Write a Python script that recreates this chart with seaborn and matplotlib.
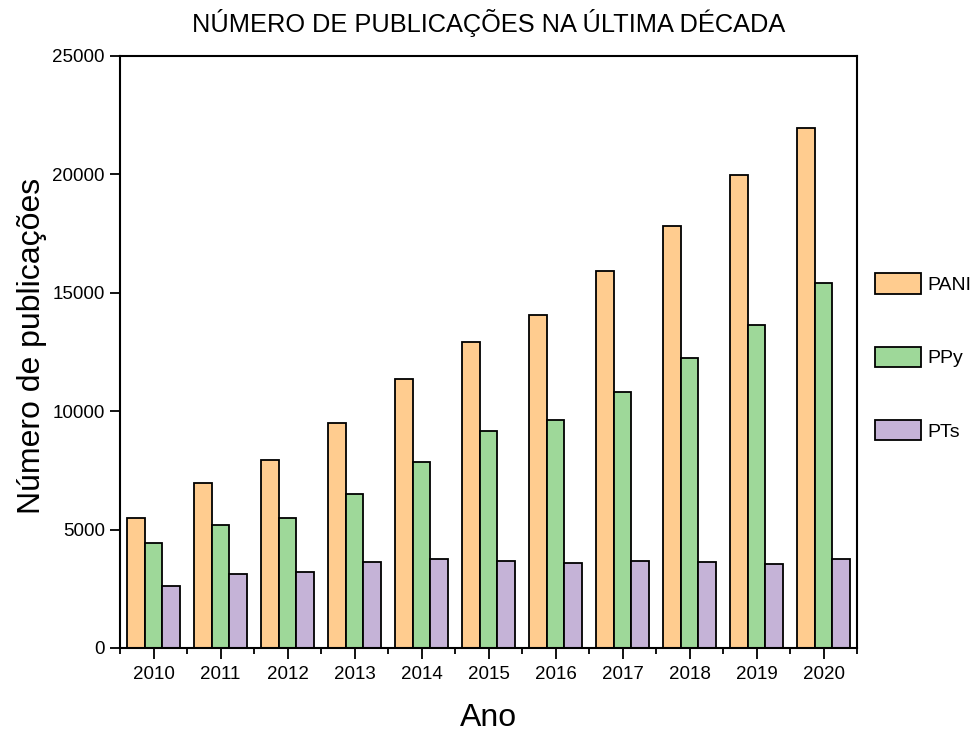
import numpy as np
import pandas as pd
import matplotlib
matplotlib.use("Agg")
import matplotlib.pyplot as plt
from matplotlib.ticker import FixedLocator
import seaborn as sns

# values
anos = ["2010", "2011", "2012", "2013", "2014", "2015", "2016", "2017", "2018", "2019", "2020"]
pani = [5500, 6950, 7950, 9500, 11370, 12920, 14080, 15930, 17820, 19970, 21980]
ppy = [4420, 5190, 5510, 6500, 7840, 9150, 9630, 10810, 12240, 13620, 15400]
pts = [2620, 3110, 3190, 3630, 3770, 3660, 3570, 3660, 3650, 3540, 3750]

series = ["PANI", "PPy", "PTs"]
cores = {"PANI": "#FFCC8F", "PPy": "#9ED899", "PTs": "#C5B3D7"}

df = pd.DataFrame({
    "Ano": anos * 3,
    "valor": pani + ppy + pts,
    "serie": ["PANI"] * len(anos) + ["PPy"] * len(anos) + ["PTs"] * len(anos),
})

sns.set_theme(style="ticks")
plt.rcParams["font.family"] = ["Liberation Sans", "DejaVu Sans"]
plt.rcParams["axes.linewidth"] = 1.5
plt.rcParams["text.color"] = "black"
plt.rcParams["axes.labelcolor"] = "black"
plt.rcParams["xtick.color"] = "black"
plt.rcParams["ytick.color"] = "black"

fig = plt.figure(figsize=(9.77, 7.31), dpi=100)
fig.subplots_adjust(left=120/977, right=857/977, top=1-56/731, bottom=1-648/731)
ax = fig.add_subplot(111)

sns.barplot(data=df, x="Ano", y="valor", hue="serie", hue_order=series,
            palette=cores, edgecolor="black", linewidth=1.3, width=0.8,
            saturation=1, ax=ax)

ax.set_xlim(-0.5, len(anos) - 0.5)
ax.set_ylim(0, 25000)
ax.set_yticks([0, 5000, 10000, 15000, 20000, 25000])
ax.xaxis.set_minor_locator(FixedLocator(np.arange(-0.5, len(anos), 1)))

for s in ax.spines.values():
    s.set_visible(True)
    s.set_linewidth(1.5)
    s.set_color("black")

ax.tick_params(axis="x", which="major", direction="out", length=8, width=1.3,
               labelsize=13.5, pad=5, colors="black")
ax.tick_params(axis="x", which="minor", direction="out", length=4, width=1.3)
ax.tick_params(axis="y", which="major", direction="out", length=7, width=1.3,
               labelsize=13.5, pad=4, colors="black")

ax.set_xlabel("Ano", fontsize=23, labelpad=14, color="black")
ax.set_ylabel("Número de publicações", fontsize=23, color="black")
ax.yaxis.set_label_coords(-0.099, 0.51)
ax.set_title("NÚMERO DE PUBLICAÇÕES NA ÚLTIMA DÉCADA", fontsize=18.3, pad=17, color="black")

handles, labels = ax.get_legend_handles_labels()
if ax.get_legend() is not None:
    ax.get_legend().remove()
leg = fig.legend(handles, labels, loc="center left", bbox_to_anchor=(875/977, 1-357/731),
                 frameon=False, fontsize=14, handlelength=2.35, handleheight=1.25,
                 labelspacing=2.7, handletextpad=0.35, borderpad=0, borderaxespad=0)
for h in leg.legend_handles:
    h.set_edgecolor("black")
    h.set_linewidth(1.3)
for t in leg.get_texts():
    t.set_color("black")

fig.savefig("out.png", dpi=100)
